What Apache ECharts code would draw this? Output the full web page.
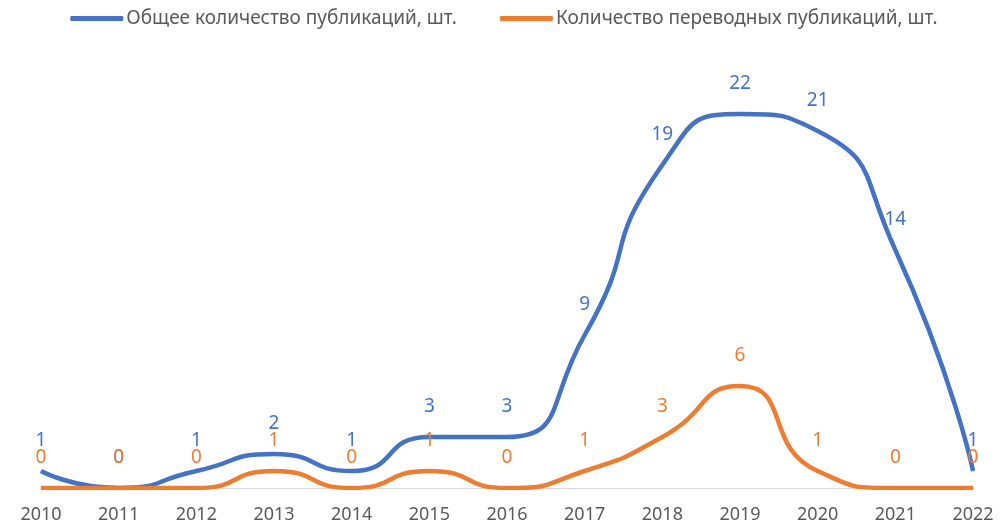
<!DOCTYPE html>
<html>
<head>
<meta charset="utf-8">
<script src="https://cdn.jsdelivr.net/npm/echarts@6/dist/echarts.min.js"></script>
<style>
  html, body { margin: 0; padding: 0; background: #fff; }
  #chart { width: 1008px; height: 531px; }
</style>
</head>
<body>
<div id="chart"></div>
<script>
// годы и значения
const years = ['2010', '2011', '2012', '2013', '2014', '2015', '2016', '2017', '2018', '2019', '2020', '2021', '2022'];
const totalPubs = [1, 0, 1, 2, 1, 3, 3, 9, 19, 22, 21, 14, 1];
const translatedPubs = [0, 0, 0, 1, 0, 1, 0, 1, 3, 6, 1, 0, 0];

const FONT = 'Noto Sans';
const BLUE = '#4472C4';
const ORANGE = '#ED7D31';
const chart = echarts.init(document.getElementById('chart'));

function lineSeries(name, data, color) {
  return {
    name: name,
    type: 'line',
    data: data,
    smooth: 0.6,
    symbol: 'circle',
    symbolSize: 1,
    lineStyle: { color: color, width: 4.5 },
    itemStyle: { color: color },
    label: { show: true, position: 'top', distance: 20, color: color, fontSize: 19, fontFamily: FONT }
  };
}

chart.setOption({
  animation: false,
  textStyle: { fontFamily: FONT },
  legend: {
    top: 4,
    left: 'center',
    itemGap: 43,
    itemWidth: 53,
    itemHeight: 5,
    icon: 'roundRect',
    textStyle: { fontSize: 19, color: '#595959', fontFamily: FONT, padding: [0, 0, 0, -2] },
    data: ['Общее количество публикаций, шт.', 'Количество переводных публикаций, шт.']
  },
  grid: { left: 41, right: 35, top: 63, bottom: 43 },
  xAxis: {
    type: 'category',
    boundaryGap: false,
    data: years,
    axisLine: { lineStyle: { color: '#d9d9d9', width: 1 } },
    axisTick: { show: false },
    axisLabel: { color: '#595959', fontSize: 18, margin: 18, fontFamily: FONT }
  },
  yAxis: {
    type: 'value',
    min: 0,
    max: 25,
    show: false
  },
  series: [
    lineSeries('Общее количество публикаций, шт.', totalPubs, BLUE),
    lineSeries('Количество переводных публикаций, шт.', translatedPubs, ORANGE)
  ]
});
</script>
</body>
</html>
